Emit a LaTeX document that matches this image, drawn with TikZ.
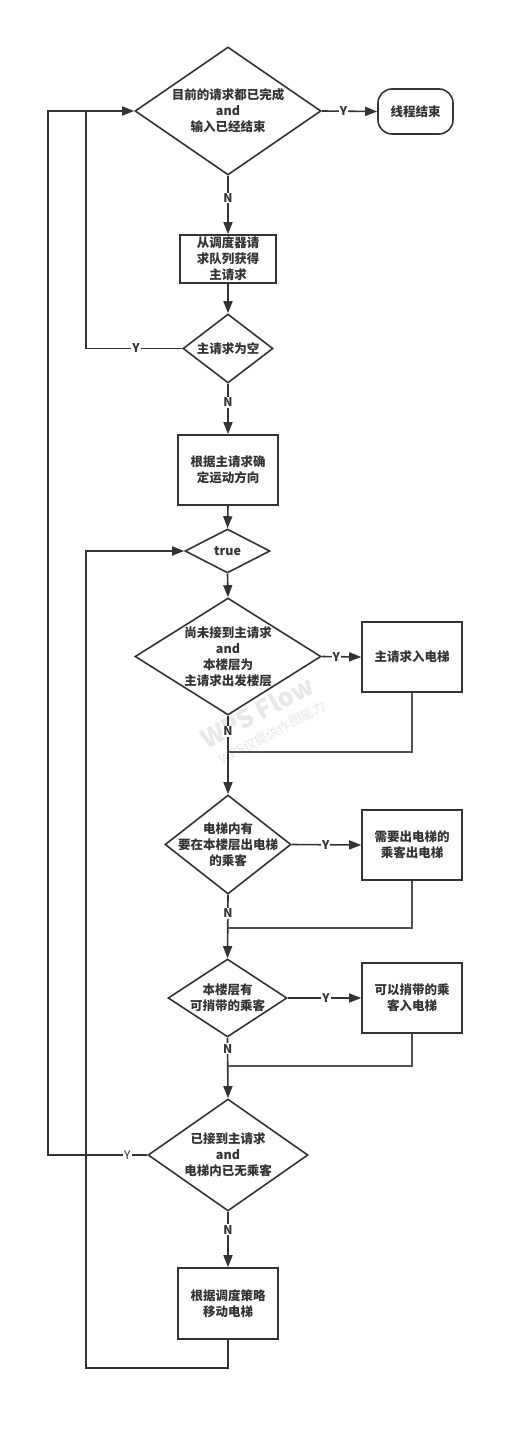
\documentclass[tikz,border=0pt]{standalone}
\usepackage{fontspec}
\setmainfont{Noto Sans CJK SC}
\usetikzlibrary{shapes.geometric,arrows.meta}
\definecolor{ink}{HTML}{333333}
\definecolor{wm}{HTML}{E8E8E8}
\tikzset{
  base/.style={draw=ink, line width=1.6pt, inner sep=0pt},
  dia/.style={base, shape=diamond},
  box/.style={base, rectangle},
  term/.style={base, rectangle, rounded corners=14pt},
  txt/.style={text=ink, font=\fontsize{12.5pt}{16pt}\selectfont\bfseries, align=center},
  arr/.style={draw=ink, line width=1.6pt, -{Triangle[length=12pt,width=9pt]}},
  ln/.style={draw=ink, line width=1.6pt},
  thin/.style={draw=ink!85, line width=1.2pt},
  lbl/.style={fill=white, text=ink, inner sep=1pt, font=\fontsize{12pt}{14pt}\selectfont\bfseries},
  lblthin/.style={fill=white, text=ink, inner sep=1pt, font=\fontsize{12pt}{14pt}\selectfont},
}
\begin{document}
\begin{tikzpicture}[x=1pt,y=-1pt]
\useasboundingbox (0,0) rectangle (524,1431);
\fill[white] (0,0) rectangle (524,1431);
% watermark
\node[text=wm, rotate=28, font=\fontsize{25pt}{28pt}\selectfont\bfseries] (wm1) at (257,712) {WPS Flow};
\node[text=wm, rotate=28, font=\fontsize{13pt}{15pt}\selectfont] (wm2) at (272,733) {WPS仅提供作图能力};

% nodes
\node[dia, minimum width=186pt, minimum height=128pt, label={[txt]center:目前的请求都已完成\\and\\输入已经结束}] (d1) at (228,111) {};
\node[term, minimum width=75pt, minimum height=45pt, txt] (end) at (415.5,111.5) {线程结束};
\node[box, minimum width=96pt, minimum height=48pt, txt] (b2) at (228,259) {从调度器请\\求队列获得\\主请求};
\node[dia, minimum width=90pt, minimum height=69pt, label={[txt]center:主请求为空}] (d2) at (228,348.5) {};
\node[box, minimum width=100pt, minimum height=70pt, txt] (b3) at (228,470) {根据主请求确\\定运动方向};
\node[dia, minimum width=85pt, minimum height=44pt, label={[txt]center:true}] (dt) at (227.5,551) {};
\node[dia, minimum width=186pt, minimum height=117pt, label={[txt]center:尚未接到主请求\\and\\本楼层为\\主请求出发楼层}] (d4) at (228,656.5) {};
\node[box, minimum width=100pt, minimum height=70pt, txt] (b4) at (412,657) {主请求入电梯};
\node[dia, minimum width=126pt, minimum height=99pt, label={[txt]center:电梯内有\\要在本楼层出电梯\\的乘客}] (d5) at (228,844.5) {};
\node[box, minimum width=100pt, minimum height=70pt, txt] (b5) at (412,845) {需要出电梯的\\乘客出电梯};
\node[dia, minimum width=119pt, minimum height=78pt, label={[txt]center:本楼层有\\可捎带的乘客}] (d6) at (227.5,998) {};
\node[box, minimum width=100pt, minimum height=70pt, txt] (b6) at (412,998) {可以捎带的乘\\客入电梯};
\node[dia, minimum width=160pt, minimum height=112pt, label={[txt]center:已接到主请求\\and\\电梯内已无乘客}] (d7) at (228,1155) {};
\node[box, minimum width=100pt, minimum height=71pt, txt] (b8) at (228,1303.5) {根据调度策略\\移动电梯};

% helper coordinates
\coordinate (o1) at (48,1155);
\coordinate (o2) at (48,111);
\coordinate (i1) at (86,348.5);
\coordinate (i2) at (86,111);
\coordinate (m1) at (412,752);
\coordinate (m1b) at (228,752);
\coordinate (m2) at (412,928);
\coordinate (m2b) at (228,928);
\coordinate (m3) at (412,1066);
\coordinate (m3b) at (228,1066);
\coordinate (l1) at (228,1368);
\coordinate (l2) at (86,1368);
\coordinate (l3) at (86,551);

% connectors
\draw[arr] (d1.east) -- node[lbl, pos=0.39] {Y} (end.west);
\draw[arr] (d1.south) -- node[lbl, pos=0.38] {N} (b2.north);
\draw[arr] (b2.south) -- (d2.north);
\draw[ln] (d2.west) -- node[lbl, pos=0.48] {Y} (i1) -- (i2);
\draw[arr] (d2.south) -- node[lbl, pos=0.37] {N} (b3.north);
\draw[arr] (b3.south) -- (dt.north);
\draw[arr] (dt.south) -- (d4.north);
\draw[arr] (d4.east) -- node[lbl, pos=0.37] {Y} (b4.west);
\draw[arr] (d4.south) -- node[lbl, pos=0.2] {N} (d5.north);
\draw[thin] (b4.south) -- (m1) -- (m1b);
\draw[arr] (d5.east) -- node[lbl, pos=0.49] {Y} (b5.west);
\draw[arr] (d5.south) -- node[lbl, pos=0.29] {N} (d6.north);
\draw[thin] (b5.south) -- (m2) -- (m2b);
\draw[arr] (d6.east) -- node[lbl, pos=0.52] {Y} (b6.west);
\draw[arr] (d6.south) -- node[lbl, pos=0.18] {N} (d7.north);
\draw[thin] (b6.south) -- (m3) -- (m3b);
\draw[arr] (d7.south) -- node[lbl, pos=0.32] {N} (b8.north);
\draw[arr] (d7.west) -- node[lblthin, pos=0.2] {Y} (o1) -- (o2) -- (d1.west);
\draw[arr] (b8.south) -- (l1) -- (l2) -- (l3) -- (dt.west);
\end{tikzpicture}
\end{document}
